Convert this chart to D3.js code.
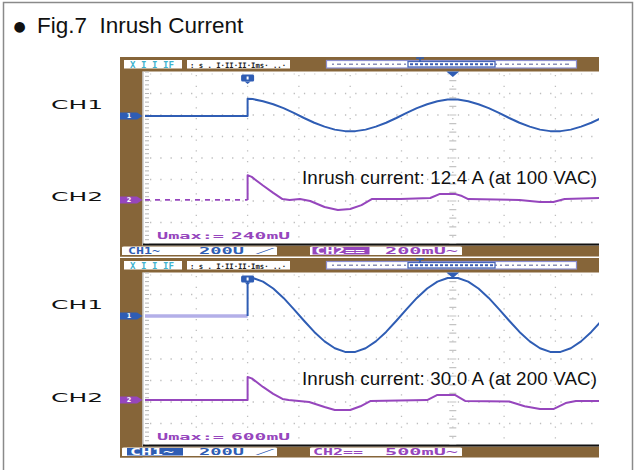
<!DOCTYPE html>
<html><head><meta charset="utf-8">
<script src="https://cdn.jsdelivr.net/npm/d3@7"></script>
<style>body{margin:0;background:#fff}</style>
</head><body>
<svg id="c" width="636" height="470"></svg>
<script>
// ---------- data (time in ms, level in divisions from screen centre) ----------
const titleText = "Fig.7  Inrush Current";
const timeGrid = [5,10,15,20,25,30,35,40];      // ms, 5 ms/div
const levelGrid = [-3,-2,-1,0,1,2,3];           // divisions
const channelLabels = ["CH1","CH2"];
const inrushNotes = ["Inrush current: 12.4 A (at 100 VAC)", "Inrush current: 30.0 A (at 200 VAC)"];
const vmaxLabels = ["240mU","600mU"];
const ch1Scales = ["200U","200U"];
const ch2Scales = ["200mU","500mU"];
const triggerTime = 10;
const ch1Ground = [1.95, 2.0];
const ch2Ground = [-1.95, -1.91];

// panel 1 (100 VAC)
const p1Ch1 = [[0,1.95],[10,1.95],[10,2.76],[10.5,2.74],[11.5,2.64],[12.5,2.50],[13.5,2.32],[14.5,2.10],[15.5,1.86],[16.5,1.64],[17.5,1.46],[18.5,1.32],[19.5,1.25],[20.5,1.25],[21.5,1.32],[22.5,1.46],[23.5,1.64],[24.5,1.86],[25.5,2.10],[26.5,2.32],[27.5,2.50],[28.5,2.64],[29.5,2.72],[30.5,2.72],[31.5,2.64],[32.5,2.50],[33.5,2.32],[34.5,2.10],[35.5,1.86],[36.5,1.64],[37.5,1.46],[38.5,1.32],[39.5,1.25],[40.5,1.25],[41.5,1.32],[42.5,1.46],[43.5,1.64],[44.5,1.86]];
const p1Ch2 = [[10,-1.95],[10,-0.80],[10.4,-0.88],[11.5,-1.28],[12.5,-1.62],[13.4,-1.91],[14.1,-1.95],[15.1,-1.91],[16.1,-2.0],[17.5,-2.28],[18.8,-2.42],[20.0,-2.37],[21.1,-2.19],[22.1,-1.91],[24.9,-1.91],[27.8,-1.86],[28.75,-1.67],[30.2,-1.67],[30.9,-1.77],[31.5,-1.91],[36.5,-1.95],[38.5,-2.05],[39.8,-2.05],[40.9,-1.91],[44.5,-1.86]];
const p1Ch2Pre = [[0,-1.95],[10,-1.95]];

// panel 2 (200 VAC)
const p2Ch1Pre = [[0,2.0],[10,2.0]];
const p2Ch1 = [[10,2.0],[10,3.79],[10.5,3.77],[11.5,3.60],[12.5,3.28],[13.5,2.84],[14.5,2.32],[15.5,1.78],[16.5,1.26],[17.5,0.82],[18.5,0.50],[19.5,0.33],[20.5,0.33],[21.5,0.50],[22.5,0.82],[23.5,1.26],[24.5,1.78],[25.5,2.32],[26.5,2.84],[27.5,3.28],[28.5,3.60],[29.5,3.77],[30.5,3.77],[31.5,3.60],[32.5,3.28],[33.5,2.84],[34.5,2.32],[35.5,1.78],[36.5,1.26],[37.5,0.82],[38.5,0.50],[39.5,0.33],[40.5,0.33],[41.5,0.50],[42.5,0.82],[43.5,1.26],[44.5,1.78]];
const p2Ch2 = [[0,-1.91],[10,-1.91],[10,-0.84],[10.4,-0.90],[11.5,-1.30],[12.5,-1.62],[13.4,-1.86],[14,-1.91],[16,-2.0],[17.5,-2.23],[18.5,-2.37],[20,-2.37],[21,-2.2],[22,-1.95],[27.5,-1.91],[28.5,-1.67],[30.2,-1.67],[31.2,-1.95],[35.5,-1.98],[37,-2.2],[38.5,-2.33],[39.8,-2.33],[41,-2.05],[42,-1.95],[44.5,-1.95]];

// ---------- drawing ----------
const BROWN = "#866539", BLUE = "#2f5db4", PURPLE = "#9646bd", CYAN = "#3fb3cf";
const svg = d3.select("#c");
svg.append("rect").attr("width",636).attr("height",470).attr("fill","#fff");
svg.append("rect").attr("x",3.5).attr("y",2.5).attr("width",629).attr("height",470)
  .attr("fill","none").attr("stroke","#8a8a8a").attr("stroke-width",1.5);

svg.append("text").attr("x",13.5).attr("y",31).attr("font-family","DejaVu Sans")
  .attr("font-size",14).attr("fill","#111").text("●");
svg.append("text").attr("x",37).attr("y",33).attr("font-family","Liberation Sans, Arial, sans-serif")
  .attr("font-size",22.5).attr("fill","#111").attr("xml:space","preserve").text(titleText);

const x = d3.scaleLinear().domain([0,45]).range([145, 606.7]);
const PL = 143.5, PR = 599;

function scopeText(g, txt, xx, yy, len, color, size){
  return g.append("text").attr("x",xx).attr("y",yy).attr("font-family","DejaVu Sans Mono, monospace")
    .attr("font-weight","bold").attr("font-size",size||9).attr("fill",color)
    .attr("textLength",len).attr("lengthAdjust","spacingAndGlyphs").text(txt);
}

function panel(idx, y0, ch1Pre, ch1, ch2Pre, ch2, preCh1Color){
  const g = svg.append("g");
  const y = d3.scaleLinear().domain([-4,4]).range([y0+187, y0+15]);
  const clipId = "clip"+idx;
  svg.append("clipPath").attr("id",clipId).append("rect")
    .attr("x",PL).attr("y",y0+14).attr("width",PR-PL).attr("height",173);

  // frame
  g.append("rect").attr("x",120).attr("y",y0).attr("width",PR-120).attr("height",14.5).attr("fill",BROWN);
  g.append("rect").attr("x",120).attr("y",y0).attr("width",22.5).attr("height",199.5).attr("fill",BROWN);
  g.append("rect").attr("x",120).attr("y",y0+188.5).attr("width",PR-120).attr("height",11).attr("fill",BROWN);
  g.append("line").attr("x1",143).attr("x2",143).attr("y1",y0+14.5).attr("y2",y0+188)
    .attr("stroke","#b9b9b9").attr("stroke-width",1.2);
  g.append("line").attr("x1",143).attr("x2",PR).attr("y1",y0+187.5).attr("y2",y0+187.5)
    .attr("stroke","#111").attr("stroke-width",2);

  // grid
  const gg = g.append("g").attr("clip-path",`url(#${clipId})`);
  gg.selectAll(".vc").data(timeGrid).join("line")
    .attr("x1",d=>x(d)).attr("x2",d=>x(d)).attr("y1",y(4)+3).attr("y2",y(-4))
    .attr("stroke","#bdbdbd").attr("stroke-width",1.3).attr("stroke-dasharray","1.3,9.45");
  gg.selectAll(".hr").data(levelGrid).join("line")
    .attr("x1",x(0)+5).attr("x2",PR).attr("y1",d=>y(d)).attr("y2",d=>y(d))
    .attr("stroke","#bdbdbd").attr("stroke-width",1.3).attr("stroke-dasharray","1.3,8.96");
  gg.append("line").attr("x1",x(0)+5).attr("x2",PR).attr("y1",y(4)+2).attr("y2",y(4)+2)
    .attr("stroke","#c8c8c8").attr("stroke-width",1.2).attr("stroke-dasharray","1.2,9.06");
  const minor = d3.range(-20,21).map(d=>d/5);
  gg.selectAll(".lt").data(minor).join("line")
    .attr("x1",x(0)).attr("x2",x(0)+4).attr("y1",d=>y(d)).attr("y2",d=>y(d))
    .attr("stroke","#b5b5b5").attr("stroke-width",1);
  gg.selectAll(".ct").data(minor.filter((d,i)=>i%2===0)).join("line")
    .attr("x1",x(30)-3.5).attr("x2",x(30)+3.5).attr("y1",d=>y(d)).attr("y2",d=>y(d))
    .attr("stroke","#c4c4c4").attr("stroke-width",1.2);

  // traces
  const line = d3.line().x(d=>x(d[0])).y(d=>y(d[1]));
  const tg = g.append("g").attr("clip-path",`url(#${clipId})`).attr("fill","none")
    .attr("stroke-linejoin","round");
  if(ch2Pre) tg.append("path").attr("d",line(ch2Pre)).attr("stroke",PURPLE).attr("stroke-width",1.8).attr("stroke-dasharray","5,5");
  tg.append("path").attr("d",line(ch2)).attr("stroke",PURPLE).attr("stroke-width",2);
  tg.append("path").attr("d",line(ch1Pre)).attr("stroke",preCh1Color).attr("stroke-width",preCh1Color===BLUE?2:3.5);
  tg.append("path").attr("d",line(ch1)).attr("stroke",BLUE).attr("stroke-width",2);

  // ground markers
  [[ch1Ground[idx],BLUE,"1"],[ch2Ground[idx],PURPLE,"2"]].forEach(([lv,col,lab])=>{
    const yy = y(lv);
    g.append("path").attr("d",`M120,${yy-3.5}H137L142.5,${yy}L137,${yy+3.5}H120Z`).attr("fill",col);
    g.append("text").attr("x",129).attr("y",yy+2.3).attr("font-size",6.5).attr("font-weight","bold")
      .attr("font-family","DejaVu Sans").attr("fill","#fff").attr("text-anchor","middle").text(lab);
  });

  // trigger markers
  const tx = x(triggerTime);
  g.append("rect").attr("x",tx-6.5).attr("y",y0+17.5).attr("width",13).attr("height",7).attr("rx",1.5).attr("fill",BLUE);
  g.append("path").attr("d",`M${tx-3},${y0+24.5}L${tx+3},${y0+24.5}L${tx},${y0+27}Z`).attr("fill",BLUE);
  g.append("rect").attr("x",tx-1).attr("y",y0+19.5).attr("width",2).attr("height",3).attr("fill","#fff");
  g.append("path").attr("d",`M${x(30)-6.5},${y0+14.5}L${x(30)+6.5},${y0+14.5}L${x(30)},${y0+20}Z`).attr("fill",BLUE);

  // top bar boxes
  g.append("rect").attr("x",124).attr("y",y0+3).attr("width",58).attr("height",8.5).attr("fill","#fff");
  scopeText(g,"X  I I  IF",130,y0+10.5,44,CYAN,8.5);
  g.append("rect").attr("x",187).attr("y",y0+3).attr("width",103).attr("height",8.5).attr("fill","#fff");
  scopeText(g,": s . I·II·II·Ims· ..·",190,y0+10.5,96,"#222",7.5);
  g.append("rect").attr("x",326.5).attr("y",y0+3.5).attr("width",250).attr("height",7.5).attr("fill","#fff")
    .attr("stroke","#8d8fd0").attr("stroke-width",1.2);
  g.append("line").attr("x1",332).attr("x2",571).attr("y1",y0+7.3).attr("y2",y0+7.3)
    .attr("stroke","#8a8fb8").attr("stroke-width",1.4).attr("stroke-dasharray","2,3,4,3");
  g.append("rect").attr("x",408).attr("y",y0+4.5).attr("width",87).attr("height",5.5).attr("fill","#fff")
    .attr("stroke","#4a67b8").attr("stroke-width",1.3);
  g.append("line").attr("x1",410).attr("x2",493).attr("y1",y0+7.3).attr("y2",y0+7.3)
    .attr("stroke","#3a5cb3").attr("stroke-width",2).attr("stroke-dasharray","3,2");
  g.append("path").attr("d",`M416,${y0+1}H424M420,${y0+1}V${y0+5}`).attr("stroke",BLUE).attr("stroke-width",1.6);

  // bottom status bar
  const by = y0+189.5;
  g.append("path").attr("d",`M122,${by+8.5}V${by+1}Q122,${by} 124,${by}H275Q277,${by} 277,${by+1}V${by+8.5}Z`).attr("fill","#fff");
  g.append("path").attr("d",`M310,${by+8.5}V${by+1}Q310,${by} 312,${by}H460Q462,${by} 462,${by+1}V${by+8.5}Z`).attr("fill","#fff");
  if(idx===1){
    g.append("rect").attr("x",127).attr("y",by+0.5).attr("width",56).attr("height",7.5).attr("fill",BLUE);
    scopeText(g,"CH1~",130,by+7.2,44,"#fff",9);
    scopeText(g,"CH2==",313,by+7.2,50,PURPLE,9);
  } else {
    scopeText(g,"CH1~",128,by+7.2,32,BLUE,9);
    g.append("rect").attr("x",312.5).attr("y",by+0.5).attr("width",57).attr("height",7.5).attr("fill",PURPLE);
    scopeText(g,"CH2==",315,by+7.2,50,"#fff",9);
  }
  scopeText(g,ch1Scales[idx],199,by+7.2,45,BLUE,9);
  scopeText(g,"⁄",262,by+7.2,6,BLUE,9);
  scopeText(g,ch2Scales[idx]+"~",385,by+7.2,73,PURPLE,9);

  // Vmax readout
  scopeText(g,"Umax:=",157,y0+182,67,PURPLE,9);
  scopeText(g,vmaxLabels[idx],231,y0+182,59,PURPLE,9);

  // channel labels (left)
  svg.append("text").attr("x",51).attr("y",y(ch1Ground[idx])-7).attr("font-family","DejaVu Sans")
    .attr("font-size",11.5).attr("fill","#111").attr("textLength",52).attr("lengthAdjust","spacingAndGlyphs").text(channelLabels[0]);
  svg.append("text").attr("x",51).attr("y",y(ch2Ground[idx])+1.5).attr("font-family","DejaVu Sans")
    .attr("font-size",11.5).attr("fill","#111").attr("textLength",52).attr("lengthAdjust","spacingAndGlyphs").text(channelLabels[1]);

  // annotation
  svg.append("text").attr("x",302).attr("y",y0+126.5).attr("font-family","Liberation Sans, Arial, sans-serif")
    .attr("font-size",18.8).attr("fill","#111").attr("textLength",295).attr("lengthAdjust","spacing").text(inrushNotes[idx]);
}

panel(0, 57, [[0,ch1Ground[0]],[10,ch1Ground[0]]], p1Ch1, p1Ch2Pre, p1Ch2, BLUE);
panel(1, 258, p2Ch1Pre, p2Ch1, null, p2Ch2, "#b3afe8");
</script>
</body></html>
